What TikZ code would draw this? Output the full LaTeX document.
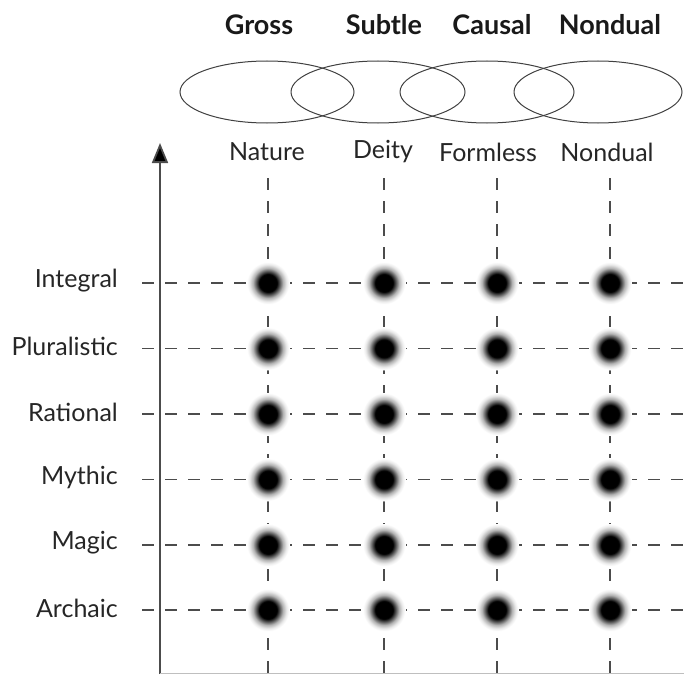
\documentclass[tikz,border=0pt]{standalone}
\usepackage{fontspec}
\setmainfont{Lato}
\usetikzlibrary{arrows.meta}
\pgfdeclareradialshading{blob}{\pgfpoint{0bp}{0bp}}{color(0bp)=(black); color(10bp)=(black); color(13bp)=(black!70); color(17bp)=(black!30); color(21bp)=(black!8); color(24bp)=(white); color(25bp)=(white)}
\begin{document}
\begin{tikzpicture}[x=1pt,y=-1pt,
  title/.style={font=\fontsize{27}{30}\selectfont\bfseries, text=black!90},
  sub/.style={font=\fontsize{25}{28}\selectfont, text=black!85},
  rowlab/.style={font=\fontsize{25}{28}\selectfont, text=black!85, anchor=east, inner sep=0pt},
  grid/.style={draw=black!70, line width=1.6pt, dash pattern=on 12pt off 11pt},
  ring/.style={draw=black!75, line width=1pt},
  dot/.style={circle, minimum size=44pt, inner sep=0pt, shading=blob}]
\useasboundingbox (0,0) rectangle (684,674);
% titles
\node[title] (t1) at (259,25) {Gross};
\node[title] (t2) at (384,25) {Subtle};
\node[title] (t3) at (492,25) {Causal};
\node[title] (t4) at (610,25) {Nondual};
% ellipses
\draw[ring] (267,92) ellipse [x radius=87, y radius=31];
\draw[ring] (378,92) ellipse [x radius=87, y radius=31];
\draw[ring] (487,92) ellipse [x radius=87, y radius=31];
\draw[ring] (598,92) ellipse [x radius=84, y radius=31];
% sub labels
\node[sub] (s1) at (267,152) {Nature};
\node[sub] (s2) at (383,152) {Deity};
\node[sub] (s3) at (488,152) {Formless};
\node[sub] (s4) at (607,152) {Nondual};
% axis
\coordinate (ab) at (160,674);
\coordinate (at) at (160,143);
\draw[draw=black!70, line width=1.8pt, -{Triangle[length=20pt,width=16pt,fill=black]}] (ab) -- (at);
\coordinate (bl) at (160,673);
\coordinate (br) at (684,673);
\draw[black!25, line width=1pt] (bl) -- (br);
% columns
\foreach \x [count=\i] in {268,384,497,610}{
  \coordinate (c\i t) at (\x,178);
  \coordinate (c\i b) at (\x,674);
  \draw[grid] (c\i t) -- (c\i b);
}
% rows
\foreach \y/\lab [count=\j] in {283/Integral,348.5/Pluralistic,414/Rational,479.5/Mythic,545/Magic,610/Archaic}{
  \node[rowlab] (r\j) at (118,\y-2) {\lab};
  \coordinate (h\j l) at (142,\y);
  \coordinate (h\j r) at (684,\y);
  \draw[grid] (h\j l) -- (h\j r);
}
% dots
\foreach \x [count=\i] in {268,384,497,610}{
  \foreach \y [count=\j] in {283,348.5,414,479.5,545,610}{
    \node[dot] (d\i\j) at (\x,\y) {};
  }
}
\end{tikzpicture}
\end{document}
